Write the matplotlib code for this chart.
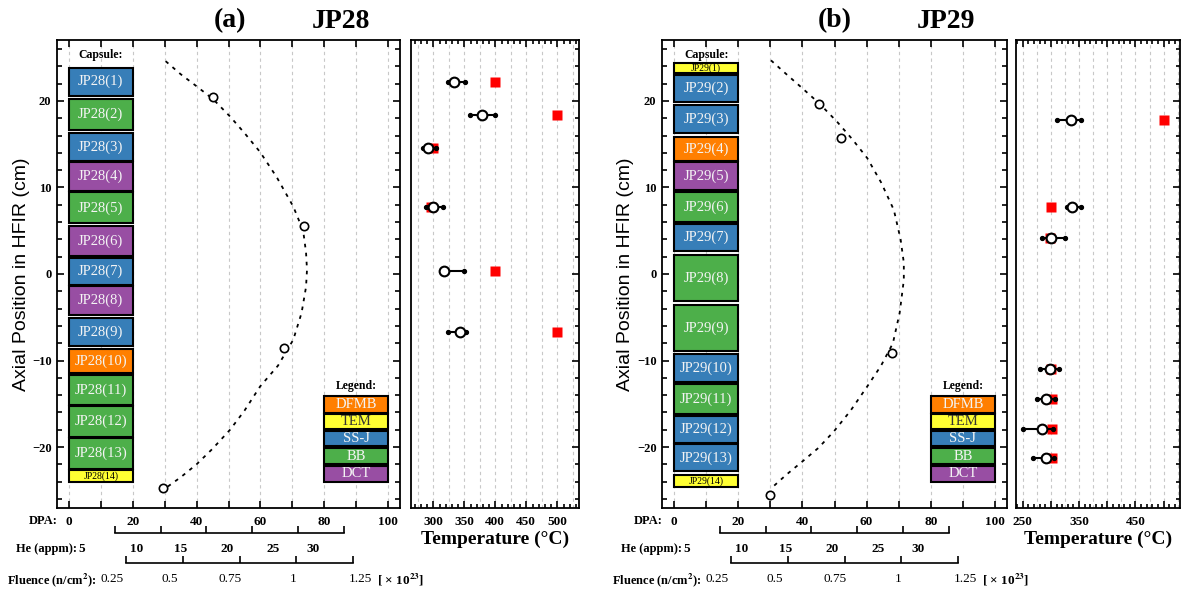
import matplotlib
matplotlib.use('Agg')
import matplotlib.pyplot as plt
from matplotlib.patches import Rectangle
from matplotlib.ticker import MultipleLocator
from matplotlib.transforms import ScaledTranslation

plt.rcParams['font.family'] = ['Liberation Serif', 'DejaVu Serif']
plt.rcParams['mathtext.fontset'] = 'stix'

# ---------------- data ----------------
type_colors = {'DFMB': '#ff7f00', 'TEM': '#ffff33', 'SS-J': '#377eb8',
               'BB': '#4daf4a', 'DCT': '#984ea3'}
legend_types = ['DFMB', 'TEM', 'SS-J', 'BB', 'DCT']
legend_top = [-14.1, -16.2, -18.1, -20.1, -22.15]
legend_bot = [-16.1, -17.9, -19.9, -22.0, -24.0]

# JP28 capsules
caps_a_names = ['JP28(%d)' % i for i in range(1, 15)]
caps_a_types = ['SS-J', 'BB', 'SS-J', 'DCT', 'BB', 'DCT', 'SS-J', 'DCT', 'SS-J',
                'DFMB', 'BB', 'BB', 'BB', 'TEM']
caps_a_top = [23.85, 20.2, 16.3, 12.9, 9.45, 5.5, 1.9, -1.4, -5.1, -8.7, -11.7, -15.3, -19.0, -22.7]
caps_a_bot = [20.6, 16.65, 13.05, 9.65, 5.85, 2.1, -1.3, -4.75, -8.3, -11.4, -15.1, -18.8, -22.5, -24.0]

# JP29 capsules
caps_b_names = ['JP29(%d)' % i for i in range(1, 15)]
caps_b_types = ['TEM', 'SS-J', 'SS-J', 'DFMB', 'DCT', 'BB', 'SS-J', 'BB', 'BB',
                'SS-J', 'BB', 'SS-J', 'SS-J', 'TEM']
caps_b_top = [24.4, 23.0, 19.5, 15.8, 13.0, 9.5, 5.8, 2.15, -3.55, -9.3, -12.7, -16.4, -19.7, -23.2]
caps_b_bot = [23.2, 19.9, 16.3, 13.1, 9.7, 6.0, 2.7, -3.1, -8.95, -12.5, -16.2, -19.5, -22.8, -24.6]

# dose profile (dotted curve) and measured points
curve_a_dpa = [30.3, 35.0, 40.0, 45.2, 50.5, 55.0, 59.9, 65.1, 70.3, 73.4, 74.3, 74.6, 74.3, 72.9,
               70.3, 65.5, 59.9, 55.0, 50.5, 45.0, 40.0, 35.0, 30.1]
curve_a_pos = [24.6, 23.1, 21.7, 20.2, 18.2, 16.3, 14.1, 11.2, 7.8, 5.0, 2.5, 0.5, -1.5, -4.5,
               -7.6, -10.6, -13.0, -15.8, -18.0, -20.2, -22.0, -23.5, -24.8]
pts_a_dpa = [45.1, 73.7, 67.3, 29.6]
pts_a_pos = [20.5, 5.6, -8.5, -24.7]

curve_b_dpa = [30.2, 35.0, 39.9, 45.3, 50.8, 55.5, 60.2, 64.5, 68.5, 70.6, 71.6, 71.6, 70.3, 68.2,
               64.5, 60.2, 55.0, 49.8, 45.0, 39.9, 35.0, 30.5]
curve_b_pos = [24.7, 23.1, 21.5, 19.7, 17.6, 15.6, 13.4, 10.6, 7.4, 4.0, 1.3, -0.7, -4.5, -8.0,
               -10.6, -13.0, -15.8, -18.2, -20.1, -21.7, -23.2, -24.7]
pts_b_dpa = [45.3, 52.0, 67.9, 29.8]
pts_b_pos = [19.7, 15.7, -9.1, -25.6]

# temperatures
temp_a_pos = [22.2, 18.4, 14.6, 7.7, 0.4, -6.75]
temp_a_meas = [334, 378, 291, 300, 317, 343]
temp_a_lo = [324, 359, 283, 288, 317, 324]
temp_a_hi = [351, 399, 305, 315, 349, 352]
temp_a_target = [400, 500, 300, 297, 400, 500]

temp_b_pos = [17.8, 7.75, 4.15, -11.0, -14.45, -17.9, -21.3]
temp_b_meas = [335.5, 338, 300, 298, 291, 283.6, 290.7]
temp_b_lo = [310, 328, 283.6, 280.6, 276, 250, 269]
temp_b_hi = [354, 354, 325, 315, 307, 304, 305.5]
temp_b_target = [500, 300, 298, 300, 301, 301, 301]

he_ticks = [5, 10, 15, 20, 25, 30]
he_labels = ['5', '10', '15', '20', '25', '30']
flu_ticks = [0.25, 0.5, 0.75, 1.0, 1.25]
flu_labels = ['0.25', '0.5', '0.75', '1', '1.25']

# ---------------- layout ----------------
W, H = 1182, 591
fig = plt.figure(figsize=(11.82, 5.91), dpi=100)


def px_axes(l, t, r, b):
    return fig.add_axes([l / W, 1 - b / H, (r - l) / W, (b - t) / H])


def lim_from_px(v0, v1, p0, p1, width):
    k = (v1 - v0) / (p1 - p0)
    return v0 - p0 * k, v0 + (width - p0) * k


def scale_axis(l, r, y, ticks, labels, v0, v1, p0, p1, shifts, bold):
    sax = px_axes(l, y - 1, r, y)
    sax.set_xlim(*lim_from_px(v0, v1, p0, p1, r - l))
    for s in ['top', 'left', 'right']:
        sax.spines[s].set_visible(False)
    sax.spines['bottom'].set_bounds(ticks[0], ticks[-1])
    sax.spines['bottom'].set_linewidth(1.2)
    sax.set_yticks([])
    sax.set_xticks(ticks)
    sax.set_xticklabels(labels, fontsize=9.5, fontweight='bold' if bold else 'normal')
    sax.tick_params(axis='x', direction='in', length=5, width=1.2, pad=7)
    for lab, dx in zip(sax.get_xticklabels(), shifts):
        lab.set_transform(lab.get_transform() + ScaledTranslation(dx / 100, 0, fig.dpi_scale_trans))
    sax.patch.set_visible(False)
    return sax


def draw_panel(l, r, tl, tr, letter, name, names, types, tops, bots,
               cdpa, cpos, pdpa, ppos, tpos, tmeas, tlo, thi, ttarget, txlim, txticks, txlabels):
    ax = px_axes(l, 40, r, 508)
    ax.set_xlim(-3.75, 103.75)
    ax.set_ylim(-27.05, 27.05)
    ax.set_axisbelow(True)
    ax.xaxis.set_major_locator(MultipleLocator(20))
    ax.xaxis.set_minor_locator(MultipleLocator(10))
    ax.yaxis.set_major_locator(MultipleLocator(10))
    ax.yaxis.set_minor_locator(MultipleLocator(2))
    ax.grid(axis='x', which='both', color='#c8c8c8', linestyle=(0, (3, 3)), linewidth=0.8)
    ax.tick_params(which='both', direction='in', top=True, right=True, width=1.2)
    ax.tick_params(which='major', length=5)
    ax.tick_params(which='minor', length=3.5)
    ax.tick_params(axis='x', which='minor', length=5)
    ax.tick_params(axis='x', labelsize=9.5, pad=6)
    ax.tick_params(axis='y', labelsize=9, pad=4)
    for lab in ax.get_xticklabels() + ax.get_yticklabels():
        lab.set_fontweight('bold')
    for s in ax.spines.values():
        s.set_linewidth(1.3)
    ax.set_ylabel('Axial Position in HFIR (cm)', family='Liberation Sans', fontsize=14)
    ax.yaxis.set_label_coords(-0.08, 0.5)

    # capsules
    for nm, tp, y0, y1 in zip(names, types, tops, bots):
        ax.add_patch(Rectangle((0, y1), 20, y0 - y1, facecolor=type_colors[tp],
                               edgecolor='black', linewidth=1.5, zorder=2))
        if tp == 'TEM':
            ax.text(10, (y0 + y1) / 2, nm, ha='center', va='center', fontsize=7, color='black', zorder=3)
        else:
            ax.text(10, (y0 + y1) / 2, nm, ha='center', va='center', fontsize=10.5, color='#f4f4f4', zorder=3)
    ax.text(10, 25.3, 'Capsule:', ha='center', va='center', fontsize=8.5, fontweight='bold')

    # legend
    for tp, y0, y1 in zip(legend_types, legend_top, legend_bot):
        ax.add_patch(Rectangle((80, y1), 20, y0 - y1, facecolor=type_colors[tp],
                               edgecolor='black', linewidth=1.5, zorder=2))
        ax.text(90, (y0 + y1) / 2, tp, ha='center', va='center', fontsize=10.5,
                color='#333333' if tp == 'TEM' else '#f4f4f4', zorder=3)
    ax.text(90, -12.9, 'Legend:', ha='center', va='center', fontsize=8.5, fontweight='bold')

    # dose curve
    ax.plot(cdpa, cpos, color='black', linestyle=(0, (2, 3)), linewidth=1.3, zorder=3)
    ax.plot(pdpa, ppos, 'o', ms=6, mfc='white', mec='black', mew=1.2, zorder=4)

    # bottom scales
    fig.text((l - 57 + 58) / W, 1 - 521 / H, 'DPA:', ha='right', va='center', fontsize=9, fontweight='bold')
    fig.text((l - 57 + 77) / W, 1 - 549 / H, 'He (appm):', ha='right', va='center', fontsize=9, fontweight='bold')
    fig.text((l - 57 + 97) / W, 1 - 580 / H, 'Fluence (n/cm$^\\mathbf{2}$):', ha='right', va='center',
             fontsize=9, fontweight='bold')
    scale_axis(l, r, 533, he_ticks, he_labels, 5, 30, 58, 286.5,
               [-33, -24, -26, -25, -25, -30], True)
    scale_axis(l, r, 563, flu_ticks, flu_labels, 0.25, 1.25, 69, 296,
               [-14, -13, -9, -3, 7], False)
    fig.text((l - 57 + 377) / W, 1 - 580 / H, '[ \u00d7 10$^{\\mathbf{23}}$]', ha='left', va='center',
             fontsize=9.5, fontweight='bold')

    # titles
    fig.text((l - 57 + 230) / W, 1 - 21 / H, letter, ha='center', va='center', fontsize=20, fontweight='bold')
    fig.text((l - 57 + 341) / W, 1 - 21 / H, name, ha='center', va='center', fontsize=20, fontweight='bold')

    # temperature panel
    tax = px_axes(tl, 40, tr, 508)
    tax.set_xlim(*txlim)
    tax.set_ylim(-27.05, 27.05)
    tax.set_xticks(txticks)
    tax.set_xticklabels(txlabels)
    tax.xaxis.set_minor_locator(MultipleLocator(10))
    for g in range(int(txlim[0] // 25 + 1) * 25, int(txlim[1]) + 1, 25):
        tax.axvline(g, color='#c8c8c8', linestyle=(0, (3, 3)), linewidth=0.8, zorder=0.5)
    tax.yaxis.set_major_locator(MultipleLocator(10))
    tax.yaxis.set_minor_locator(MultipleLocator(2))
    tax.tick_params(which='both', direction='in', top=True, left=False, right=True,
                    labelleft=False, width=1.2)
    tax.tick_params(which='major', length=5)
    tax.tick_params(which='minor', length=3)
    tax.tick_params(axis='x', labelsize=9.5, pad=6)
    for lab in tax.get_xticklabels():
        lab.set_fontweight('bold')
    for s in tax.spines.values():
        s.set_linewidth(1.3)
    tax.set_xlabel('Temperature (\u00b0C)', fontsize=14, fontweight='bold', labelpad=2)

    tax.plot(ttarget, tpos, 's', color='#ff0000', ms=7, mec='none', zorder=3)
    tax.hlines(tpos, tlo, thi, color='black', linewidth=1.5, zorder=4)
    tax.plot(tlo, tpos, 'o', color='black', ms=2.8, zorder=4)
    tax.plot(thi, tpos, 'o', color='black', ms=2.8, zorder=4)
    tax.plot(tmeas, tpos, 'o', ms=7, mfc='white', mec='black', mew=1.5, zorder=5)
    return ax, tax


draw_panel(57, 400, 411, 579, '(a)', 'JP28', caps_a_names, caps_a_types, caps_a_top, caps_a_bot,
           curve_a_dpa, curve_a_pos, pts_a_dpa, pts_a_pos,
           temp_a_pos, temp_a_meas, temp_a_lo, temp_a_hi, temp_a_target,
           (264, 535), [300, 350, 400, 450, 500], ['300', '350', '400', '450', '500'])

draw_panel(662, 1007, 1016, 1180, '(b)', 'JP29', caps_b_names, caps_b_types, caps_b_top, caps_b_bot,
           curve_b_dpa, curve_b_pos, pts_b_dpa, pts_b_pos,
           temp_b_pos, temp_b_meas, temp_b_lo, temp_b_hi, temp_b_target,
           (238, 529), [250, 300, 350, 400, 450, 500], ['250', '', '350', '', '450', ''])

fig.savefig('out.png', dpi=100)
